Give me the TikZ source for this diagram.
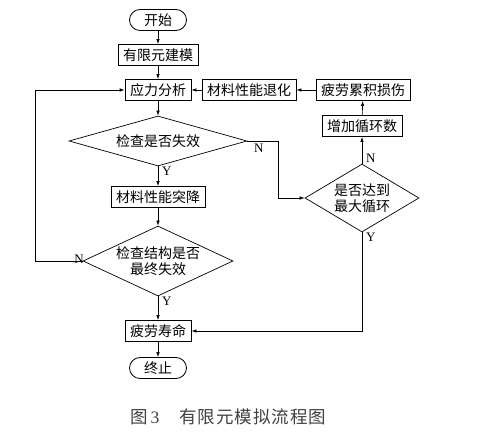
\documentclass[tikz,border=0pt]{standalone}
\usepackage{fontspec}
\setmainfont{Liberation Serif}
\newfontfamily\cjk{Noto Sans CJK SC}
\usetikzlibrary{shapes.geometric,arrows.meta}
\begin{document}
\begin{tikzpicture}[x=1pt,y=-1pt,
  cn/.style={font=\cjk\fontsize{14}{16}\selectfont},
  box/.style={cn,draw,line width=0.9pt,minimum height=21pt,inner xsep=5pt,inner ysep=0pt},
  term/.style={cn,draw,line width=0.8pt,rounded corners=10.5pt,minimum width=57pt,minimum height=21pt,inner sep=0pt},
  dia/.style={cn,draw,diamond,line width=0.7pt,inner sep=0pt,align=center},
  arr/.style={-{Latex[length=5pt,width=3.5pt]},line width=0.6pt},
  lab/.style={font=\fontsize{13}{13}\selectfont,inner sep=0pt}
]
\useasboundingbox (0,0) rectangle (490,438);

\node[term] (start) at (158,20) {开始};
\node[box] (fem) at (158,55) {有限元建模};
\node[box] (stress) at (158,90) {应力分析};
\node[box] (degrade) at (249,90) {材料性能退化};
\node[box] (damage) at (363,90) {疲劳累积损伤};
\node[box] (incr) at (362,126) {增加循环数};
\node[dia,minimum width=178pt,minimum height=50pt,aspect=3.4] (d1) at (158,141) {检查是否失效};
\node[box] (drop) at (158,197) {材料性能突降};
\node[dia,minimum width=150pt,minimum height=70pt,aspect=2.1] (d2) at (158,261) {检查结构是否\\最终失效};
\node[dia,minimum width=114pt,minimum height=68pt,aspect=1.68] (d3) at (362,198) {是否达到\\最大循环};
\node[box] (life) at (158,331) {疲劳寿命};
\node[term] (end) at (158,368) {终止};

\coordinate (L) at (35,0);
\coordinate (R) at (278,0);

\draw[arr] (start) -- (fem);
\draw[arr] (fem) -- (stress);
\draw[arr] (stress) -- (d1);
\draw[arr] (d1) -- (drop);
\draw[arr] (drop) -- (d2);
\draw[arr] (d2) -- (life);
\draw[arr] (life) -- (end);
\draw[arr] (d1.east) -- (d1.east -| R) |- (d3.west);
\draw[arr] (d3) -- (incr);
\draw[arr] (incr) -- (damage);
\draw[arr] (damage) -- (degrade);
\draw[arr] (degrade) -- (stress);
\draw[arr] (d3.south) |- (life.east);
\draw[arr] (d2.west) -- (d2.west -| L) |- (stress.west);

\node[lab,anchor=north west] (y1) at (162,167) {Y};
\node[lab,anchor=north west] (y2) at (162,297) {Y};
\node[lab,anchor=north west] (y3) at (366,233) {Y};
\node[lab,anchor=north west] (n1) at (254,144) {N};
\node[lab,anchor=south west] (n3) at (366,163) {N};
\node[lab,anchor=south east] (n2) at (84,264) {N};

\node[anchor=west,inner sep=0pt,text=black!75,font=\fontsize{17.5}{18}\selectfont] (cap) at (130,417) {{\cjk 图}\,3\hspace{20pt}{\cjk 有\kern1pt 限\kern1pt 元\kern1pt 模\kern1pt 拟\kern1pt 流\kern1pt 程\kern1pt 图}};
\end{tikzpicture}
\end{document}
